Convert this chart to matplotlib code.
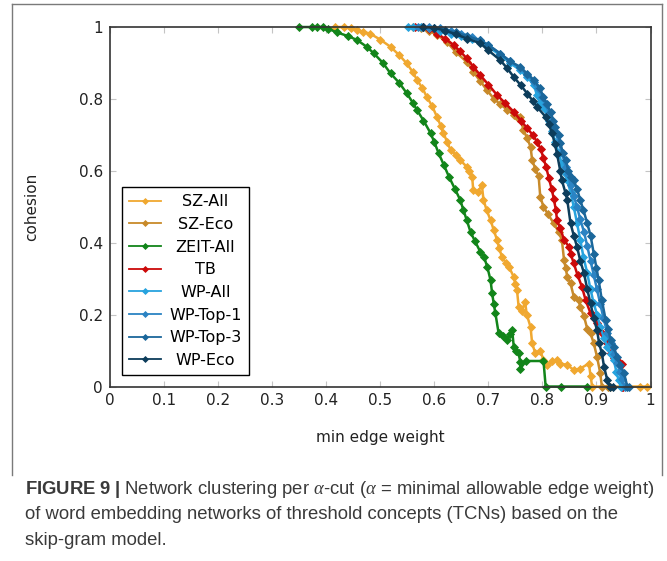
import matplotlib
matplotlib.use("Agg")
import matplotlib.pyplot as plt
from matplotlib.lines import Line2D

# ---------- data ---------- #
zeit_all_x = [0.349, 0.373, 0.383, 0.394, 0.404, 0.42, 0.44, 0.457, 0.475, 0.488, 0.505, 0.519,
              0.535, 0.549, 0.56, 0.568, 0.58, 0.593, 0.600, 0.608, 0.618, 0.627, 0.638, 0.648,
              0.654, 0.660, 0.667, 0.675, 0.685, 0.692, 0.698, 0.704, 0.707, 0.710, 0.713, 0.719,
              0.727, 0.734, 0.740, 0.744, 0.747, 0.752, 0.756, 0.759, 0.759, 0.770, 0.802, 0.806,
              0.835, 0.882]
zeit_all_y = [1, 1, 1, 1, 0.995, 0.985, 0.975, 0.964, 0.945, 0.927, 0.90, 0.871,
              0.845, 0.816, 0.79, 0.769, 0.74, 0.705, 0.68, 0.649, 0.615, 0.584, 0.55, 0.519,
              0.49, 0.463, 0.43, 0.405, 0.375, 0.36, 0.333, 0.296, 0.259, 0.23, 0.204, 0.148,
              0.14, 0.129, 0.145, 0.157, 0.111, 0.10, 0.092, 0.069, 0.05, 0.071, 0.071, 0.0,
              0.0, 0.0]

sz_all_x = [0.417, 0.432, 0.445, 0.457, 0.468, 0.481, 0.50, 0.519, 0.535, 0.549, 0.560, 0.568,
            0.578, 0.586, 0.596, 0.605, 0.612, 0.617, 0.624, 0.630, 0.640, 0.648, 0.660, 0.665,
            0.670, 0.672, 0.680, 0.688, 0.691, 0.697, 0.704, 0.710, 0.716, 0.720, 0.725, 0.732,
            0.738, 0.747, 0.750, 0.753, 0.756, 0.762, 0.768, 0.771, 0.778, 0.781, 0.787, 0.796,
            0.802, 0.809, 0.818, 0.827, 0.833, 0.846, 0.858, 0.870, 0.886, 0.889, 0.892, 0.981,
            0.993]
sz_all_y = [1, 1, 0.996, 0.992, 0.986, 0.982, 0.965, 0.945, 0.922, 0.899, 0.875, 0.853,
            0.83, 0.806, 0.78, 0.750, 0.725, 0.704, 0.68, 0.658, 0.645, 0.630, 0.611, 0.60,
            0.584, 0.547, 0.54, 0.560, 0.519, 0.49, 0.463, 0.435, 0.408, 0.385, 0.361, 0.345,
            0.333, 0.305, 0.285, 0.268, 0.222, 0.21, 0.236, 0.20, 0.166, 0.120, 0.092, 0.10,
            0.074, 0.060, 0.07, 0.074, 0.064, 0.060, 0.046, 0.050, 0.064, 0.03, 0.0, 0.0,
            0.0]

sz_eco_x = [0.56, 0.575, 0.59, 0.605, 0.623, 0.64, 0.660, 0.672, 0.685, 0.697, 0.710, 0.722,
            0.735, 0.747, 0.755, 0.759, 0.765, 0.772, 0.778, 0.781, 0.787, 0.793, 0.796, 0.802,
            0.810, 0.821, 0.830, 0.836, 0.840, 0.843, 0.846, 0.852, 0.858, 0.867, 0.870, 0.877,
            0.883, 0.889, 0.895, 0.901, 0.907, 0.910, 0.921, 0.925]
sz_eco_y = [1, 0.998, 0.99, 0.978, 0.959, 0.93, 0.903, 0.875, 0.85, 0.825, 0.801, 0.785,
            0.77, 0.755, 0.748, 0.75, 0.713, 0.69, 0.667, 0.630, 0.605, 0.585, 0.528, 0.50,
            0.48, 0.454, 0.43, 0.408, 0.352, 0.33, 0.305, 0.287, 0.250, 0.241, 0.222, 0.195,
            0.16, 0.148, 0.12, 0.083, 0.037, 0.0, 0.0, 0.0]

tb_x = [0.565, 0.58, 0.59, 0.605, 0.62, 0.636, 0.648, 0.660, 0.672, 0.685, 0.70, 0.716,
        0.73, 0.747, 0.76, 0.772, 0.782, 0.790, 0.797, 0.802, 0.807, 0.812, 0.817, 0.821,
        0.825, 0.827, 0.833, 0.840, 0.849, 0.852, 0.858, 0.865, 0.873, 0.880, 0.889, 0.895,
        0.901, 0.910, 0.920, 0.926, 0.932, 0.940, 0.947, 0.947, 0.95]
tb_y = [1, 1, 0.995, 0.982, 0.967, 0.950, 0.932, 0.913, 0.89, 0.866, 0.84, 0.811,
        0.79, 0.764, 0.74, 0.718, 0.70, 0.681, 0.66, 0.635, 0.61, 0.579, 0.55, 0.523,
        0.49, 0.463, 0.44, 0.408, 0.389, 0.37, 0.343, 0.31, 0.278, 0.24, 0.204, 0.19,
        0.176, 0.15, 0.120, 0.092, 0.08, 0.07, 0.064, 0.0, 0.0]

wp_all_x = [0.551, 0.56, 0.575, 0.59, 0.61, 0.63, 0.65, 0.67, 0.685, 0.70, 0.722, 0.74,
            0.759, 0.772, 0.784, 0.790, 0.795, 0.80, 0.806, 0.812, 0.818, 0.824, 0.830, 0.836,
            0.843, 0.846, 0.852, 0.858, 0.864, 0.870, 0.876, 0.883, 0.889, 0.895, 0.901, 0.907,
            0.914, 0.920, 0.926, 0.932, 0.937, 0.941, 0.945]
wp_all_y = [1, 1, 1, 0.998, 0.99, 0.982, 0.975, 0.968, 0.96, 0.945, 0.922, 0.90,
            0.88, 0.86, 0.84, 0.81, 0.79, 0.78, 0.77, 0.74, 0.71, 0.68, 0.65, 0.62,
            0.59, 0.574, 0.54, 0.50, 0.455, 0.408, 0.36, 0.315, 0.27, 0.231, 0.20, 0.166,
            0.135, 0.111, 0.09, 0.074, 0.04, 0.018, 0.0]

wp_top1_x = [0.57, 0.59, 0.61, 0.63, 0.65, 0.67, 0.685, 0.70, 0.722, 0.74, 0.759, 0.772,
             0.784, 0.792, 0.799, 0.806, 0.812, 0.818, 0.824, 0.830, 0.836, 0.843, 0.848, 0.852,
             0.858, 0.864, 0.870, 0.877, 0.883, 0.889, 0.895, 0.901, 0.907, 0.913, 0.920, 0.926,
             0.932, 0.938, 0.944, 0.948, 0.952]
wp_top1_y = [1, 1, 0.997, 0.99, 0.982, 0.973, 0.963, 0.95, 0.926, 0.905, 0.885, 0.866,
             0.848, 0.83, 0.806, 0.785, 0.762, 0.735, 0.71, 0.68, 0.65, 0.612, 0.59, 0.56,
             0.53, 0.50, 0.465, 0.43, 0.39, 0.35, 0.31, 0.27, 0.23, 0.19, 0.15, 0.12,
             0.09, 0.065, 0.04, 0.02, 0.0]

wp_top3_x = [0.58, 0.60, 0.62, 0.64, 0.66, 0.685, 0.70, 0.722, 0.74, 0.759, 0.772, 0.784,
             0.795, 0.802, 0.808, 0.815, 0.820, 0.824, 0.830, 0.833, 0.838, 0.843, 0.848, 0.852,
             0.858, 0.864, 0.870, 0.876, 0.883, 0.889, 0.895, 0.900, 0.904, 0.910, 0.917, 0.922,
             0.926, 0.932, 0.938, 0.944, 0.951, 0.957, 0.96]
wp_top3_y = [1, 0.998, 0.993, 0.985, 0.975, 0.963, 0.95, 0.926, 0.905, 0.889, 0.87, 0.853,
             0.83, 0.806, 0.785, 0.765, 0.74, 0.723, 0.70, 0.677, 0.65, 0.630, 0.60, 0.584,
             0.574, 0.55, 0.519, 0.49, 0.454, 0.42, 0.37, 0.33, 0.296, 0.24, 0.185, 0.16,
             0.129, 0.11, 0.083, 0.06, 0.037, 0.0, 0.0]

wp_eco_x = [0.58, 0.60, 0.62, 0.64, 0.66, 0.685, 0.70, 0.722, 0.735, 0.747, 0.76, 0.772,
            0.782, 0.790, 0.806, 0.812, 0.818, 0.823, 0.827, 0.833, 0.836, 0.843, 0.846, 0.852,
            0.858, 0.864, 0.870, 0.877, 0.883, 0.889, 0.895, 0.901, 0.905, 0.910, 0.914, 0.920,
            0.925, 0.931]
wp_eco_y = [1, 0.998, 0.99, 0.98, 0.968, 0.955, 0.935, 0.908, 0.885, 0.861, 0.838, 0.815,
            0.795, 0.778, 0.750, 0.73, 0.704, 0.675, 0.648, 0.60, 0.574, 0.537, 0.519, 0.454,
            0.42, 0.389, 0.35, 0.315, 0.27, 0.231, 0.19, 0.157, 0.12, 0.092, 0.055, 0.018,
            0.0, 0.0]

x_ticks = [0, 0.1, 0.2, 0.3, 0.4, 0.5, 0.6, 0.7, 0.8, 0.9, 1]
y_ticks = [0, 0.2, 0.4, 0.6, 0.8, 1]
x_tick_labels = ["0", "0.1", "0.2", "0.3", "0.4", "0.5", "0.6", "0.7", "0.8", "0.9", "1"]
y_tick_labels = ["0", "0.2", "0.4", "0.6", "0.8", "1"]

# label: (x, y, colour)
series = {
    "SZ-All": (sz_all_x, sz_all_y, "#f0a830"),
    "SZ-Eco": (sz_eco_x, sz_eco_y, "#c88a2a"),
    "ZEIT-All": (zeit_all_x, zeit_all_y, "#12851a"),
    "TB": (tb_x, tb_y, "#cc0a0a"),
    "WP-All": (wp_all_x, wp_all_y, "#27a3de"),
    "WP-Top-1": (wp_top1_x, wp_top1_y, "#2b83c3"),
    "WP-Top-3": (wp_top3_x, wp_top3_y, "#1b679b"),
    "WP-Eco": (wp_eco_x, wp_eco_y, "#0d3d5b"),
}

# ---------- plotting ---------- #
fig = plt.figure(figsize=(6.67, 5.61), dpi=100)
ax = fig.add_axes([0.1649, 0.311, 0.8104, 0.6408])

for label, (xs, ys, col) in series.items():
    ax.plot(xs, ys, color=col, linewidth=1.8, marker="D", markersize=3.6,
            markeredgewidth=0.6, label=label, clip_on=False)

ax.set_xlim(0, 1)
ax.set_ylim(0, 1)
ax.set_xticks(x_ticks)
ax.set_xticklabels(x_tick_labels)
ax.set_yticks(y_ticks)
ax.set_yticklabels(y_tick_labels)
ax.tick_params(direction="in", length=4, width=0.8, color="#c4c4c4",
               top=True, right=True, labelsize=11, pad=5, labelcolor="#222222")
for sp in ax.spines.values():
    sp.set_color("#333333")
    sp.set_linewidth(1.2)

ax.set_xlabel("min edge weight", fontsize=11, color="#222222")
ax.xaxis.label.set_va("center")
ax.xaxis.set_label_coords(0.5, -0.1405)
ax.set_ylabel("cohesion", fontsize=11, color="#222222")
ax.yaxis.label.set_va("center")
ax.yaxis.set_label_coords(-0.1443, 0.5)

leg = ax.legend(loc="lower left", bbox_to_anchor=(0.022, 0.032), borderaxespad=0,
                fontsize=11.5, handlelength=2.0, handletextpad=0.5, labelspacing=0.48,
                fancybox=False, framealpha=1, edgecolor="black", borderpad=0.45)
leg.get_frame().set_linewidth(1.0)
for h in leg.legend_handles:
    h.set_linewidth(1.3)
    h.set_markersize(3)

# centre legend texts in their column
fig.canvas.draw()
renderer = fig.canvas.get_renderer()
widths = [t.get_window_extent(renderer).width for t in leg.get_texts()]
maxw = max(widths)
for t, w in zip(leg.get_texts(), widths):
    t.set_position(((maxw - w) / 2, 0))

# outer frame
frame_col = "#7a7a7a"
fig.add_artist(Line2D([0.018, 0.018], [0.153, 0.9929], color=frame_col, lw=1))
fig.add_artist(Line2D([0.018, 0.9925], [0.9929, 0.9929], color=frame_col, lw=1))
fig.add_artist(Line2D([0.9925, 0.9925], [0.153, 0.9929], color=frame_col, lw=1))

# caption
plt.rcParams["mathtext.fontset"] = "custom"
plt.rcParams["mathtext.rm"] = "Liberation Sans"
plt.rcParams["mathtext.it"] = "Liberation Serif:italic"
plt.rcParams["mathtext.bf"] = "Liberation Sans:bold"
cap_kw = dict(family="Liberation Sans", fontsize=13.3, color="#3a3a3a", va="center")
fig.text(0.0375, 0.1266,
         r"$\mathbf{FIGURE\ 9\ |}$ Network clustering per $\alpha$-cut ($\alpha$ = minimal allowable edge weight)",
         **cap_kw)
fig.text(0.0375, 0.082,
         "of word embedding networks of threshold concepts (TCNs) based on the", **cap_kw)
fig.text(0.0375, 0.0374, "skip-gram model.", **cap_kw)

fig.savefig("out.png", dpi=100)
